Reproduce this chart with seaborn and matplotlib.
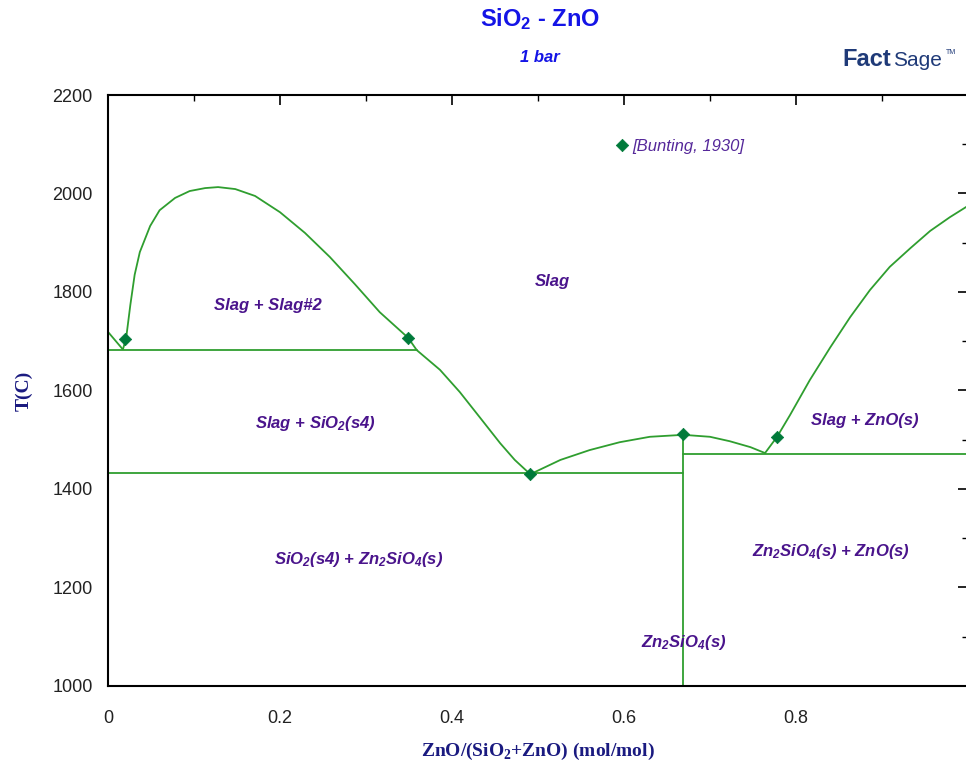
import matplotlib
matplotlib.use("Agg")
import matplotlib.pyplot as plt
import seaborn as sns
import pandas as pd
import numpy as np

# ---- data ----
# SiO2 liquidus at the left edge
left_liq_x = [0.0, 0.017]
left_liq_T = [1719, 1684]

# miscibility gap dome + SiO2 liquidus down to eutectic
dome_x = [0.0174, 0.021, 0.026, 0.031, 0.037, 0.049, 0.060, 0.078, 0.095, 0.113, 0.128,
          0.148, 0.171, 0.200, 0.229, 0.258, 0.287, 0.316, 0.349, 0.359,
          0.386, 0.409, 0.433, 0.456, 0.473, 0.491]
dome_T = [1684, 1705, 1774, 1835, 1881, 1934, 1966, 1991, 2005, 2011, 2013,
          2009, 1995, 1962, 1920, 1871, 1816, 1759, 1707, 1682,
          1642, 1597, 1544, 1493, 1459, 1430]

# Zn2SiO4 liquidus
w_x = [0.491, 0.526, 0.560, 0.595, 0.630, 0.669, 0.700, 0.723, 0.747, 0.764]
w_T = [1430, 1459, 1479, 1495, 1506, 1510, 1506, 1497, 1485, 1473]

# ZnO liquidus
z_x = [0.764, 0.778, 0.793, 0.816, 0.840, 0.863, 0.886, 0.909, 0.933, 0.956, 0.979, 1.0]
z_T = [1473, 1506, 1550, 1621, 1688, 1749, 1804, 1851, 1889, 1924, 1952, 1975]

# invariant lines
monotectic_x = [0.0, 0.359]; monotectic_T = [1682, 1682]
eut1_x = [0.0, 0.669]; eut1_T = [1432, 1432]
eut2_x = [0.669, 1.0]; eut2_T = [1471, 1471]
comp_x = [0.669, 0.669]; comp_T = [1510, 1000]

# experimental points [Bunting, 1930]
exp_x = [0.020, 0.349, 0.491, 0.669, 0.778]
exp_T = [1705, 1706, 1430, 1512, 1506]
legend_pt_x = [0.598]; legend_pt_T = [2098]

# phase labels
labels = ["Slag + Slag#2", "Slag", r"Slag + SiO$_\mathregular{2}$(s4)",
          r"SiO$_\mathregular{2}$(s4) + Zn$_\mathregular{2}$SiO$_\mathregular{4}$(s)",
          "Slag + ZnO(s)", r"Zn$_\mathregular{2}$SiO$_\mathregular{4}$(s) + ZnO(s)",
          r"Zn$_\mathregular{2}$SiO$_\mathregular{4}$(s)"]
label_x = [0.186, 0.517, 0.241, 0.291, 0.880, 0.841, 0.669]
label_T = [1772, 1822, 1534, 1256, 1540, 1274, 1089]

xticks = [0, 0.2, 0.4, 0.6, 0.8]
xticklabels = ["0", "0.2", "0.4", "0.6", "0.8"]
yticks = [1000, 1200, 1400, 1600, 1800, 2000, 2200]

# ---- style ----
sns.set_theme(style="white")
plt.rcParams['font.family'] = ['Liberation Sans', 'DejaVu Sans']
plt.rcParams['mathtext.fontset'] = 'custom'
plt.rcParams['mathtext.rm'] = 'Liberation Sans:bold:italic'
plt.rcParams['mathtext.it'] = 'Liberation Sans:bold:italic'

line_c = '#2f9e2f'
mark_c = '#007a3a'
txt_c = '#4a148c'

fig = plt.figure(figsize=(9.66, 7.64), dpi=100)
ax = fig.add_axes([108/966, 78/764, 860/966, 591/764])

def draw(xs, ts):
    df = pd.DataFrame({"x": xs, "T": ts})
    sns.lineplot(data=df, x="x", y="T", sort=False, estimator=None, color=line_c,
                 linewidth=1.3, ax=ax)

for xs, ts in [(left_liq_x, left_liq_T), (dome_x, dome_T), (w_x, w_T), (z_x, z_T),
               (monotectic_x, monotectic_T), (eut1_x, eut1_T), (eut2_x, eut2_T),
               (comp_x, comp_T)]:
    draw(xs, ts)

sns.scatterplot(x=exp_x + legend_pt_x, y=exp_T + legend_pt_T, marker='D', s=40,
                color=mark_c, edgecolor=mark_c, ax=ax, zorder=5)

ax.text(0.598 + 0.012, 2096, "[Bunting, 1930]", color='#55289a', fontsize=12,
        style='italic', va='center', ha='left')

for lab, lx, lt in zip(labels, label_x, label_T):
    ax.text(lx, lt, lab, color=txt_c, fontsize=12, fontweight='bold', style='italic',
            ha='center', va='center')

ax.set_xlim(0, 1.0)
ax.set_ylim(1000, 2200)
ax.set_xticks(xticks)
ax.set_xticklabels(xticklabels)
ax.set_yticks(yticks)
ax.set_xticks(np.arange(0.1, 1.0, 0.2), minor=True)
ax.set_yticks(np.arange(1100, 2200, 200), minor=True)
ax.tick_params(which='both', direction='in', top=True, right=True, color='black',
               labelsize=13, labelcolor='#222222')
ax.tick_params(which='major', length=7, width=1.2)
ax.tick_params(which='minor', length=4, width=1.0)
ax.tick_params(axis='x', which='major', pad=17)
ax.tick_params(axis='y', which='major', pad=11)
for s in ax.spines.values():
    s.set_color('black')
    s.set_linewidth(1.5)

ax.set_xlabel(r"ZnO/(SiO$_\mathregular{2}$+ZnO) (mol/mol)", fontsize=14, color='#1a1a80',
              fontweight='bold', family='Liberation Serif', labelpad=10)
ax.set_ylabel("T(C)", fontsize=14, color='#1a1a80', fontweight='bold',
              family='Liberation Serif', labelpad=14)

fig.text(540/966, 1 - 19/764, r"SiO$_\mathregular{2}$ - ZnO", color='#1414e6', fontsize=17,
         fontweight='bold', ha='center', va='center')
fig.text(540/966, 1 - 57/764, "1 bar", color='#1414e6', fontsize=12, style='italic',
         fontweight='bold', ha='center', va='center')

# FactSage logo as text
fig.text(842/966, 1 - 60/764, "Fact", color='#1f3a78', fontsize=17, fontweight='heavy',
         ha='left', va='center')
fig.text(893/966, 1 - 61/764, "Sage", color='#1f3a78', fontsize=15,
         ha='left', va='center')
fig.text(946/966, 1 - 52/764, "TM", color='#1f3a78', fontsize=5, ha='left', va='center')

fig.savefig("out.png", dpi=100, facecolor='white')
